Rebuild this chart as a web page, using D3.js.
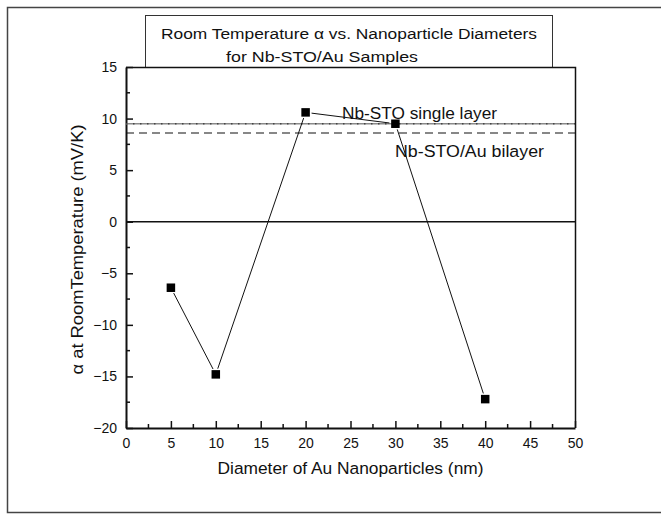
<!DOCTYPE html>
<html>
<head>
<meta charset="utf-8">
<script src="https://cdn.jsdelivr.net/npm/d3@7"></script>
<style>
  html, body { margin: 0; padding: 0; background: #fff; }
  svg { display: block; font-family: "Liberation Sans", Arial, sans-serif; }
</style>
</head>
<body>
<svg id="chart" width="661" height="516"></svg>
<script>
// Nanoparticle diameters (nm) and the measured room-temperature alpha (mV/K)
const diameters = [5, 10, 20, 30, 40];
const alphaValues = [-6.4, -14.8, 10.6, 9.5, -17.2];

// Reference levels for the film without particles
const singleLayerAlpha = 9.5;
const bilayerAlpha = 8.6;

const xTickValues = [0, 5, 10, 15, 20, 25, 30, 35, 40, 45, 50];
const xMinorTicks = [2.5, 7.5, 12.5, 17.5, 22.5, 27.5, 32.5, 37.5, 42.5, 47.5];
const yTickValues = [-20, -15, -10, -5, 0, 5, 10, 15];
const yMinorTicks = [-17.5, -12.5, -7.5, -2.5, 2.5, 7.5, 12.5];

const titleLines = ["Room Temperature \u03b1 vs. Nanoparticle Diameters", "for Nb-STO/Au Samples"];
const xTitle = "Diameter of Au Nanoparticles (nm)";
const yTitle = "\u03b1 at RoomTemperature (mV/K)";
const singleLayerLabel = "Nb-STO single layer";
const bilayerLabel = "Nb-STO/Au bilayer";

const svg = d3.select("#chart");
const plot = { left: 126, right: 575, top: 67, bottom: 428 };

const x = d3.scaleLinear().domain([0, 50]).range([plot.left, plot.right]);
const y = d3.scaleLinear().domain([-20, 15]).range([plot.bottom, plot.top]);

// text helper: fixed rendered width, glyphs stretched to fit
function label(parent, str, attrs, width) {
  const t = parent.append("text").text(str).attr("fill", "#111");
  Object.entries(attrs).forEach(([k, v]) => t.attr(k, v));
  if (width) t.attr("textLength", width).attr("lengthAdjust", "spacingAndGlyphs");
  return t;
}

// outer frame
svg.append("rect")
  .attr("x", 7.5).attr("y", 7.5).attr("width", 660).attr("height", 505)
  .attr("fill", "none").attr("stroke", "#444").attr("stroke-width", 1.5);

// title box
svg.append("rect")
  .attr("x", 145.5).attr("y", 15.5).attr("width", 407).attr("height", 52)
  .attr("fill", "#fff").attr("stroke", "#333").attr("stroke-width", 1);

label(svg, titleLines[0], { x: 161, y: 39, "font-size": 15.5 }, 376);
label(svg, titleLines[1], { x: 226, y: 62, "font-size": 15.5 }, 192);

// plot frame (top and right)
svg.append("path")
  .attr("d", `M${plot.left},${plot.top + 0.5}H${plot.right + 0.5}V${plot.bottom}`)
  .attr("fill", "none").attr("stroke", "#111").attr("stroke-width", 1.5);

// x axis with inward ticks
const xAxis = svg.append("g").attr("transform", `translate(0,${plot.bottom})`);
xAxis.call(d3.axisBottom(x).tickValues(xTickValues).tickSize(-7).tickPadding(10).tickSizeOuter(0))
  .call(g => g.select(".domain").attr("stroke-width", 2).attr("stroke", "#111"))
  .call(g => g.selectAll(".tick line").attr("stroke-width", 1.5).attr("stroke", "#111"))
  .call(g => g.selectAll(".tick text").attr("font-size", 14).attr("fill", "#111")
    .attr("font-family", "Liberation Sans, Arial, sans-serif"));
xAxis.selectAll(".minor").data(xMinorTicks).enter().append("line")
  .attr("x1", d => x(d)).attr("x2", d => x(d)).attr("y1", 0).attr("y2", -4)
  .attr("stroke", "#111").attr("stroke-width", 1.5);

// y axis with inward ticks
const yAxis = svg.append("g").attr("transform", `translate(${plot.left},0)`);
yAxis.call(d3.axisLeft(y).tickValues(yTickValues).tickSize(-7).tickPadding(9).tickSizeOuter(0))
  .call(g => g.select(".domain").attr("stroke-width", 2).attr("stroke", "#111"))
  .call(g => g.selectAll(".tick line").attr("stroke-width", 1.5).attr("stroke", "#111"))
  .call(g => g.selectAll(".tick text").attr("font-size", 14).attr("fill", "#111")
    .attr("font-family", "Liberation Sans, Arial, sans-serif"));
yAxis.selectAll(".minor").data(yMinorTicks).enter().append("line")
  .attr("x1", 0).attr("x2", 4).attr("y1", d => y(d)).attr("y2", d => y(d))
  .attr("stroke", "#111").attr("stroke-width", 1.5);

// axis titles
label(svg, xTitle, { x: (plot.left + plot.right) / 2, y: 474, "text-anchor": "middle", "font-size": 16.3 }, 266);
label(svg, yTitle, {
  transform: `translate(83,${(plot.top + plot.bottom) / 2 + 2}) rotate(-90)`,
  "text-anchor": "middle", "font-size": 16.3
}, 250);

// zero line
svg.append("line")
  .attr("x1", plot.left).attr("x2", plot.right).attr("y1", y(0)).attr("y2", y(0))
  .attr("stroke", "#111").attr("stroke-width", 1.5);

// single layer reference: grey line with darker dots
svg.append("line")
  .attr("x1", plot.left).attr("x2", plot.right)
  .attr("y1", y(singleLayerAlpha)).attr("y2", y(singleLayerAlpha))
  .attr("stroke", "#8a8a8a").attr("stroke-width", 1.5);
svg.append("line")
  .attr("x1", plot.left).attr("x2", plot.right)
  .attr("y1", y(singleLayerAlpha)).attr("y2", y(singleLayerAlpha))
  .attr("stroke", "#444").attr("stroke-width", 1.5).attr("stroke-dasharray", "1.5,5.5");

// bilayer reference: dashed
svg.append("line")
  .attr("x1", plot.left).attr("x2", plot.right)
  .attr("y1", y(bilayerAlpha)).attr("y2", y(bilayerAlpha))
  .attr("stroke", "#111").attr("stroke-width", 1.2).attr("stroke-dasharray", "8,5");

label(svg, singleLayerLabel, { x: 342, y: 119, "font-size": 16.3 }, 155);
label(svg, bilayerLabel, { x: 395, y: 157, "font-size": 16.3 }, 149);

// data: connecting segments stop short of each marker
const pts = diameters.map((d, i) => [x(d), y(alphaValues[i])]);
const gap = 6;
const segs = d3.pairs(pts).map(([a, b]) => {
  const dx = b[0] - a[0], dy = b[1] - a[1];
  const len = Math.hypot(dx, dy);
  const ux = dx / len, uy = dy / len;
  return [a[0] + ux * gap, a[1] + uy * gap, b[0] - ux * gap, b[1] - uy * gap];
});
svg.append("g").selectAll("line").data(segs).enter().append("line")
  .attr("x1", s => s[0]).attr("y1", s => s[1]).attr("x2", s => s[2]).attr("y2", s => s[3])
  .attr("stroke", "#111").attr("stroke-width", 1);

const size = 8.5;
svg.append("g").selectAll("rect").data(diameters).enter().append("rect")
  .attr("x", (d) => x(d) - size / 2)
  .attr("y", (d, i) => y(alphaValues[i]) - size / 2)
  .attr("width", size).attr("height", size)
  .attr("fill", "#000");
</script>
</body>
</html>
